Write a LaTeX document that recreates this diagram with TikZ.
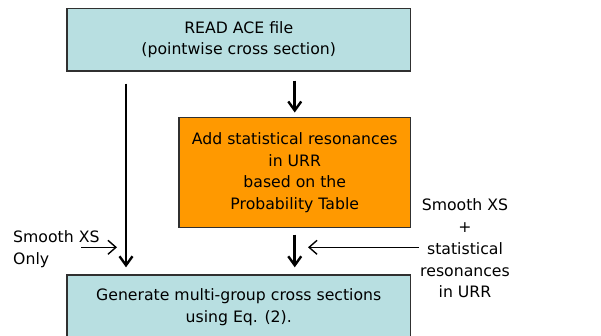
\documentclass[tikz,border=0pt]{standalone}
\usepackage{fontspec}
\setmainfont{DejaVu Sans}
\usetikzlibrary{arrows.meta}
\definecolor{boxcyan}{HTML}{B8DFE1}
\definecolor{boxorange}{HTML}{FF9900}
\definecolor{boxline}{HTML}{303030}
\tikzset{
  box/.style={draw=boxline, line width=1.4pt, align=center, inner sep=0pt,
    font=\fontsize{15.7}{21.8}\selectfont},
  lab/.style={inner sep=1pt, font=\fontsize{15.7}{21.8}\selectfont},
  bigarrow/.style={line width=2.8pt, -{Straight Barb[length=9pt,width=13pt,line width=2.4pt]}},
  smallarrow/.style={line width=1.4pt, -{Straight Barb[length=8pt,width=14pt,line width=1.4pt]}}
}
\begin{document}
\begin{tikzpicture}[x=1pt,y=-1pt]
\useasboundingbox (0,0) rectangle (601,335);
\node[box, fill=boxcyan, minimum width=343.5pt, minimum height=62.5pt] (top) at (238.75,39.75)
  {READ ACE file\\(pointwise cross section)};
\node[box, fill=boxorange, minimum width=231.5pt, minimum height=109.8pt] (mid) at (294.75,172.6)
  {Add statistical resonances\\in URR\\based on the\\Probability Table};
\node[box, fill=boxcyan, minimum width=343.5pt, minimum height=65pt] (bot) at (238.75,307.5)
  {Generate multi-group cross sections\\using Eq. (2).};
\node[lab, align=left, anchor=west] (llab) at (12,249) {Smooth XS\\Only};
\node[lab, align=center] (rlab) at (465,248.5) {Smooth XS\\+\\statistical\\resonances\\in URR};
\coordinate (lstart) at (81,247.3);
\draw[bigarrow, shorten <=12pt, shorten >=7pt] (top.south -| 126,0) -- (bot.north -| 126,0);
\draw[bigarrow, shorten <=9pt, shorten >=4.5pt] (top.south -| mid.north) -- (mid.north);
\draw[bigarrow, shorten <=6.5pt, shorten >=7pt] (mid.south) -- (bot.north -| mid.south);
\draw[smallarrow] (rlab.west |- 0,247.3) -- (308,247.3);
\draw[smallarrow] (lstart) -- (117,247.3);
\end{tikzpicture}
\end{document}
